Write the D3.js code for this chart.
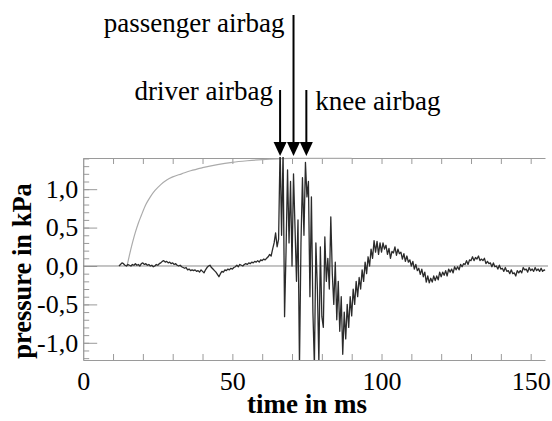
<!DOCTYPE html>
<html>
<head>
<meta charset="utf-8">
<script src="https://cdn.jsdelivr.net/npm/d3@7"></script>
<style>
  body { margin: 0; background: #fff; }
</style>
</head>
<body>
<script>
'use strict';

// pressure signal, sampled every 0.5 ms from 12 ms
const signalStart = 12;
const signalStep = 0.5;
const signalValues = [
  0.00, 0.02, 0.04, 0.03, 0.01, 0.00, 0.02, 0.01, 0.00, 0.02,        // 12
  0.01, 0.03, 0.01, 0.02, 0.00, 0.03, 0.04, 0.02, 0.03, 0.01,        // 17
  0.02, 0.00, 0.01, -0.01, 0.00, 0.02, 0.01, 0.03, 0.04, 0.06,       // 22
  0.07, 0.05, 0.06, 0.04, 0.05, 0.03, 0.04, 0.02, 0.03, 0.01,        // 27
  0.00, 0.01, -0.01, -0.02, -0.03, -0.02, -0.05, -0.04, -0.06, -0.05, // 32
  -0.06, -0.05, -0.07, -0.06, -0.08, -0.05, -0.07, -0.09, -0.05, -0.02, // 37
  0.00, 0.01, -0.02, -0.04, -0.06, -0.08, -0.11, -0.14, -0.10, -0.07, // 42
  -0.08, -0.05, -0.06, -0.04, -0.05, -0.03, -0.04, -0.02, -0.01, 0.01, // 47
  -0.01, 0.02, 0.01, 0.00, 0.02, 0.03, 0.02, 0.04, 0.03, 0.05,       // 52
  0.04, 0.06, 0.05, 0.07, 0.05, 0.08, 0.07, 0.09, 0.08, 0.10,        // 57
  0.12, 0.15, 0.13, 0.22, 0.30, 0.43, 0.25, 0.35, 1.55, 0.40,        // 62
  1.50, -0.66, 0.20, 1.25, 0.30, 1.10, 0.00, 1.20, 0.50, -0.20,      // 67
  0.60, -1.30, 0.30, 1.15, 0.40, 1.35, 0.90, 1.10, -0.40, 0.90,      // 72
  -0.60, -1.30, 0.30, -0.30, -1.25, 0.25, -0.66, -0.80, 0.38, -0.20, // 77
  0.10, -0.30, 0.64, -0.10, -0.50, 0.05, -0.70, -0.20, -0.85, -0.40, // 82
  -1.15, -0.60, -0.95, -0.50, -0.80, -0.40, -0.65, -0.30, -0.50, -0.20, // 87
  -0.40, -0.15, -0.30, -0.05, -0.20, 0.05, -0.10, 0.12, 0.00, 0.22,  // 92
  0.10, 0.33, 0.18, 0.32, 0.15, 0.30, 0.18, 0.30, 0.22, 0.27,        // 97
  0.15, 0.23, 0.10, 0.19, 0.17, 0.25, 0.14, 0.22, 0.16, 0.18,        // 102
  0.09, 0.16, 0.06, 0.13, 0.05, 0.08, 0.00, 0.06, -0.04, 0.02,       // 107
  -0.06, -0.03, -0.11, -0.04, -0.14, -0.08, -0.21, -0.13, -0.22, -0.16, // 112
  -0.21, -0.13, -0.19, -0.13, -0.18, -0.08, -0.14, -0.08, -0.12, -0.06, // 117
  -0.13, -0.04, -0.08, -0.04, -0.09, -0.01, -0.05, -0.01, -0.05, 0.02, // 122
  -0.01, 0.03, 0.02, 0.07, 0.02, 0.08, 0.07, 0.12, 0.07, 0.11,       // 127
  0.09, 0.13, 0.07, 0.09, 0.07, 0.10, 0.03, 0.06, 0.03, 0.04,        // 132
  -0.01, 0.04, -0.01, 0.00, -0.04, 0.01, -0.04, -0.03, -0.07, -0.02, // 137
  -0.07, -0.06, -0.10, -0.05, -0.10, -0.09, -0.13, -0.06, -0.09, -0.06, // 142
  -0.09, -0.02, -0.05, -0.04, -0.08, -0.02, -0.06, -0.04, -0.07, -0.02, // 147
  -0.06, -0.04, -0.07, -0.03, -0.07, -0.05, -0.06                    // 152
];

// grey rising curve
const riseTime = [14.7, 15.5, 16.5, 17.5, 18.5, 19.5, 21, 22.5, 24, 26, 28, 30, 33, 36, 40, 45, 50, 55, 60, 65, 70, 90];
const risePressure = [0, 0.14, 0.30, 0.44, 0.56, 0.66, 0.80, 0.90, 0.98, 1.06, 1.12, 1.16, 1.20, 1.24, 1.28, 1.32, 1.35, 1.37, 1.385, 1.395, 1.40, 1.40];

const xTickValues = [0, 50, 100, 150];
const yTickValues = [-1, -0.5, 0, 0.5, 1];
const yTickLabels = ['-1,0', '-0,5', '0,0', '0,5', '1,0'];

const airbagNames = ['driver airbag', 'passenger airbag', 'knee airbag'];
const airbagTimes = [66.0, 70.5, 74.8];

(function() {

  let svg = '';
  let x = null;
  let y = null;
  const axisColor = '#9a9a9a';
  const serif = "'Liberation Serif', 'Times New Roman', Times, 'DejaVu Serif', serif";

  window.onload = function() {
    svg = d3.select('body')
      .append('svg')
      .attr('width', 552)
      .attr('height', 421)
      .attr('font-family', serif);

    x = d3.scaleLinear().domain([0, 154.8]).range([83.2, 545]);
    y = d3.scaleLinear().domain([-1.224, 1.406]).range([360, 158]);

    drawAxes();
    plotData();
    drawArrows();
    makeLabels();
  }

  function styleText(sel, size, weight) {
    sel.attr('font-family', serif)
      .attr('font-size', size)
      .attr('font-weight', weight || 'normal')
      .attr('fill', '#000');
  }

  function drawAxes() {
    // bottom: minor ticks + labels
    let bottom = svg.append('g')
      .attr('transform', 'translate(0, 360)')
      .call(d3.axisBottom(x).tickValues(d3.range(10, 151, 10)).tickSize(-6).tickSizeOuter(0).tickFormat(''));
    let bottomLabels = svg.append('g')
      .attr('transform', 'translate(0, 360)')
      .call(d3.axisBottom(x).tickValues(xTickValues).tickSize(0).tickPadding(12));
    bottomLabels.attr('font-family', serif).attr('font-size', 26);
    bottomLabels.select('.domain').remove();
    styleText(bottomLabels.selectAll('text'), 26);

    let top = svg.append('g')
      .attr('transform', 'translate(0, 158)')
      .call(d3.axisTop(x).tickValues(d3.range(10, 151, 10)).tickSize(-6).tickSizeOuter(0).tickFormat(''));

    let leftMinor = svg.append('g')
      .attr('transform', 'translate(83.2, 0)')
      .call(d3.axisLeft(y).tickValues(d3.range(-12, 15).map(v => v / 10)).tickSize(-6).tickSizeOuter(0).tickFormat(''));
    let leftMajor = svg.append('g')
      .attr('transform', 'translate(83.2, 0)')
      .call(d3.axisLeft(y).tickValues(yTickValues).tickSize(-14).tickSizeOuter(0).tickPadding(5)
        .tickFormat((d, i) => yTickLabels[i]));
    leftMajor.attr('font-family', serif).attr('font-size', 26);
    styleText(leftMajor.selectAll('text'), 26);

    [bottom, top, leftMinor, leftMajor].forEach(g => {
      g.selectAll('.domain').attr('stroke', axisColor);
      g.selectAll('.tick line').attr('stroke', axisColor);
    });

    // zero line
    svg.append('line')
      .attr('x1', x(0))
      .attr('x2', 548)
      .attr('y1', y(0))
      .attr('y2', y(0))
      .attr('stroke', '#8a8a8a')
      .attr('stroke-width', 1);
  }

  function plotData() {
    svg.append('clipPath')
      .attr('id', 'plotClip')
      .append('rect')
        .attr('x', x(0))
        .attr('y', 157)
        .attr('width', 462)
        .attr('height', 203);

    let riseData = riseTime.map((t, i) => ({t: t, p: risePressure[i]}));
    let riseLine = d3.line()
      .x(d => x(d.t))
      .y(d => y(d.p))
      .curve(d3.curveMonotoneX);

    svg.append('path')
      .datum(riseData)
      .attr('clip-path', 'url(#plotClip)')
      .attr('fill', 'none')
      .attr('stroke', '#ababab')
      .attr('stroke-width', 1.2)
      .attr('d', riseLine);

    let signalData = signalValues.map((v, i) => ({t: signalStart + i * signalStep, p: v}));
    let signalLine = d3.line()
      .x(d => x(d.t))
      .y(d => y(d.p));

    svg.append('path')
      .datum(signalData)
      .attr('clip-path', 'url(#plotClip)')
      .attr('fill', 'none')
      .attr('stroke', '#2b2b2b')
      .attr('stroke-width', 1.3)
      .attr('stroke-linejoin', 'round')
      .attr('d', signalLine);
  }

  function drawArrows() {
    let tops = [90, 15, 90];
    let tip = 156;
    let head = 14;
    let half = 6.5;

    airbagTimes.forEach((t, i) => {
      let ax = x(t);
      svg.append('line')
        .attr('x1', ax)
        .attr('x2', ax)
        .attr('y1', tops[i])
        .attr('y2', tip - head + 1)
        .attr('stroke', '#000')
        .attr('stroke-width', 2);
      svg.append('path')
        .attr('d', 'M' + (ax - half) + ',' + (tip - head) + 'L' + (ax + half) + ',' + (tip - head) + 'L' + ax + ',' + tip + 'Z')
        .attr('fill', '#000');
    });

    // labels next to the arrows
    let labelPos = [
      {dx: -7, y: 100, anchor: 'end'},
      {dx: -9, y: 32, anchor: 'end'},
      {dx: 9, y: 110, anchor: 'start'}
    ];
    airbagNames.forEach((name, i) => {
      let t = svg.append('text')
        .attr('x', x(airbagTimes[i]) + labelPos[i].dx)
        .attr('y', labelPos[i].y)
        .attr('text-anchor', labelPos[i].anchor)
        .text(name);
      styleText(t, 27);
    });
  }

  function makeLabels() {
    let xt = svg.append('text')
      .attr('x', 307)
      .attr('y', 413)
      .attr('text-anchor', 'middle')
      .text('time in ms');
    styleText(xt, 27, 'bold');

    let yt = svg.append('text')
      .attr('transform', 'translate(31, 271)rotate(-90)')
      .attr('text-anchor', 'middle')
      .text('pressure in kPa');
    styleText(yt, 26.5, 'bold');
  }

})();
</script>
</body>
</html>
